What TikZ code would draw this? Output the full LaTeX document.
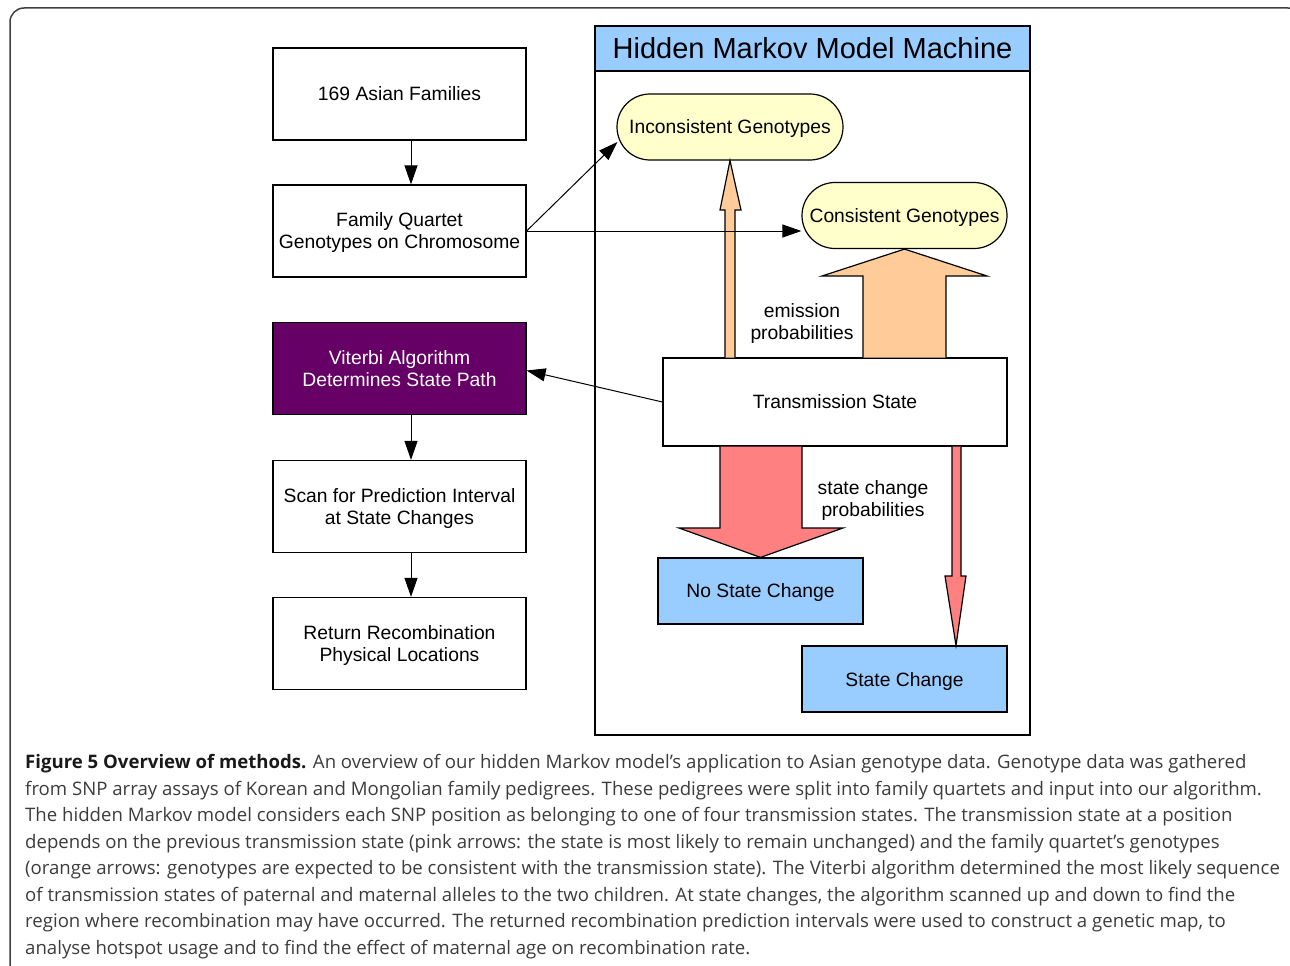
\documentclass[tikz,border=0pt]{standalone}
\usepackage{fontspec}
\setmainfont{Liberation Sans}
\newfontfamily\capfont{Open Sans}
\usetikzlibrary{arrows.meta}
\definecolor{vpurple}{HTML}{660066}
\definecolor{lblue}{HTML}{99CCFF}
\definecolor{lyellow}{HTML}{FFFFCC}
\definecolor{lorange}{HTML}{FFCC99}
\definecolor{lpink}{HTML}{FF8080}
\definecolor{captxt}{HTML}{3C3C3C}
\begin{document}
\begin{tikzpicture}[x=1pt,y=-1pt,
  dfont/.style={font=\fontsize{19.3}{22}\selectfont},
  stepbox/.style={draw, line width=1.2pt, minimum width=253pt, minimum height=92pt, align=center, inner sep=0pt, text depth=0pt, dfont},
  pill/.style={draw, line width=1.2pt, fill=lyellow, minimum height=66pt, rounded corners=33pt, inner sep=0pt, text depth=0pt, dfont},
  statebox/.style={draw, line width=1.2pt, fill=lblue, minimum width=205pt, minimum height=66pt, inner sep=0pt, text depth=0pt, dfont},
  arr/.style={line width=1pt, -{Triangle[length=19pt,width=13pt]}},
  fat/.style={draw, line width=1.2pt},
  capline/.style={anchor=base west, inner sep=0pt, text=captxt, font=\capfont\fontsize{18.6}{22}\selectfont}
]
\useasboundingbox (0,0) rectangle (1290,966);
\draw[line width=1.5pt, black!75, rounded corners=14pt] (10,8) rectangle (1302,978);

% left column
\node[stepbox] (fam) at (399.5,94) {169 Asian Families};
\node[stepbox] (fq) at (399.5,231) {Family Quartet\\Genotypes on Chromosome};
\node[stepbox, fill=vpurple, text=white] (vit) at (399.5,368.5) {Viterbi Algorithm\\Determines State Path};
\node[stepbox] (scan) at (399.5,506.5) {Scan for Prediction Interval\\at State Changes};
\node[stepbox] (ret) at (399.5,643.5) {Return Recombination\\Physical Locations};
\coordinate (ax) at (411,0);
\draw[arr] (fam.south -| ax) -- (fq.north -| ax);
\draw[arr] (vit.south -| ax) -- (scan.north -| ax);
\draw[arr] (scan.south -| ax) -- (ret.north -| ax);

% HMM machine frame
\node[draw, line width=1.2pt, minimum width=435pt, minimum height=709pt, inner sep=0pt] (hmm) at (812.5,380.5) {};
\node[draw, line width=1.2pt, fill=lblue, minimum width=435pt, minimum height=45pt, inner sep=0pt, anchor=north, font=\fontsize{29}{32}\selectfont] (title) at (hmm.north) {Hidden Markov Model Machine};

\node[pill, minimum width=226pt] (ig) at (730,127) {Inconsistent Genotypes};
\node[pill, minimum width=205pt] (cg) at (904.5,215.5) {Consistent Genotypes};
\node[draw, line width=1.2pt, fill=white, minimum width=344pt, minimum height=88pt, inner sep=0pt, text depth=0pt, dfont] (ts) at (835,402) {Transmission State};
\node[statebox] (nsc) at (760.5,591) {No State Change};
\node[statebox] (sc) at (904.5,679) {State Change};

% fat emission arrows (orange)
\draw[fat, fill=lorange] (725,357.5) -- (725,210) -- (720,210) -- (ig.south) -- (741,210) -- (735,210) -- (735,357.5);
\draw[fat, fill=lorange] (863,357.5) -- (863,276) -- (822,276) -- (cg.south) -- (987,276) -- (946,276) -- (946,357.5);
% fat state change arrows (pink)
\draw[fat, fill=lpink] (720,446.5) -- (720,528) -- (679,528) -- (nsc.north) -- (843,528) -- (802,528) -- (802,446.5);
\draw[fat, fill=lpink] (952,446.5) -- (952,576) -- (945,576) -- (sc.north -| 956,0) -- (966,576) -- (961,576) -- (961,446.5);

\node[dfont, align=center, inner sep=0pt, text depth=0pt] (emis) at (802,322) {emission\\probabilities};
\node[dfont, align=center, inner sep=0pt, text depth=0pt] (scp) at (873,499) {state change\\probabilities};

% thin connectors
\draw[arr] (fq.east) -- ([xshift=1pt,yshift=-15pt]ig.west);
\draw[arr] (fq.east) -- (fq.east -| cg.west);
\draw[arr] (ts.west) -- ([yshift=-2pt]vit.east);

% caption
\node[capline] (c1) at (25,768) {\textbf{\color{black!90}Figure 5 Overview of methods.} An overview of our hidden Markov model’s application to Asian genotype data. Genotype data was gathered};
\node[capline] (c2) at (25,795) {from SNP array assays of Korean and Mongolian family pedigrees. These pedigrees were split into family quartets and input into our algorithm.};
\node[capline] (c3) at (25,821) {The hidden Markov model considers each SNP position as belonging to one of four transmission states. The transmission state at a position};
\node[capline] (c4) at (25,848) {depends on the previous transmission state (pink arrows: the state is most likely to remain unchanged) and the family quartet’s genotypes};
\node[capline] (c5) at (25,874) {(orange arrows: genotypes are expected to be consistent with the transmission state). The Viterbi algorithm determined the most likely sequence};
\node[capline] (c6) at (25,901) {of transmission states of paternal and maternal alleles to the two children. At state changes, the algorithm scanned up and down to find the};
\node[capline] (c7) at (25,927) {region where recombination may have occurred. The returned recombination prediction intervals were used to construct a genetic map, to};
\node[capline] (c8) at (25,954) {analyse hotspot usage and to find the effect of maternal age on recombination rate.};
\end{tikzpicture}
\end{document}
